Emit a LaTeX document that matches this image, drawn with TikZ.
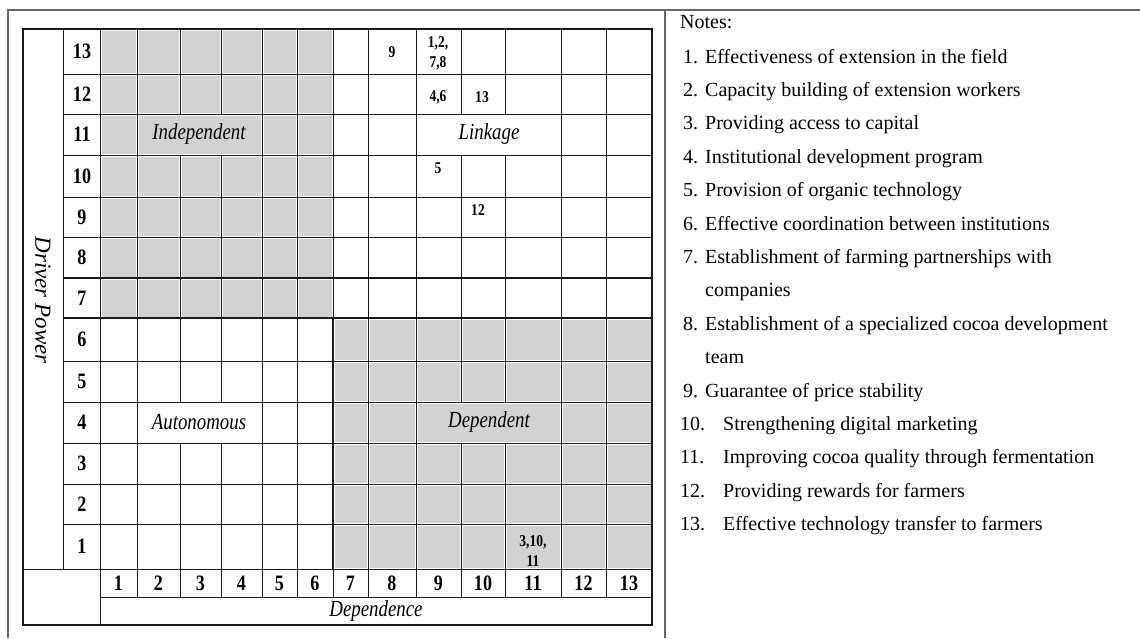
\documentclass[tikz,border=0pt]{standalone}
\usepackage{fontspec}
\setmainfont{Liberation Serif}
\newfontfamily\gridfont[FakeStretch=0.82]{Liberation Serif}
\definecolor{cellgray}{RGB}{210,210,210}
\definecolor{linec}{RGB}{25,25,25}
\def\XS{{100,137,180,221,262,297,333,368,416,461,505,561,606,652}}
\def\YS{{569,524,484,443,402,361,318,278,237,197,155,114,74,29}}
\newcommand\cellfill[3]{%
  \pgfmathsetmacro\cfxa{\XS[#1-1]}%
  \pgfmathsetmacro\cfxb{\XS[#2]}%
  \pgfmathsetmacro\cfya{\YS[#3]}%
  \pgfmathsetmacro\cfyb{\YS[#3-1]}%
  \fill[cellgray] (\cfxa+1.5,\cfya+1.5) rectangle (\cfxb-1.5,\cfyb-1.5);}
\begin{document}
\begin{tikzpicture}[x=1pt,y=-1pt,
  gl/.style={line width=0.9pt, draw=linec},
  thk/.style={line width=1.7pt, draw=linec},
  frame/.style={line width=1.4pt, draw=black!60},
  num/.style={font=\gridfont\bfseries\fontsize{22}{24}\selectfont, inner sep=0pt},
  small/.style={font=\gridfont\bfseries\fontsize{16.5}{20}\selectfont, inner sep=0pt, align=center},
  lab/.style={font=\gridfont\itshape\fontsize{23}{25}\selectfont, inner sep=0pt},
  note/.style={font=\fontsize{20}{22}\selectfont, anchor=base west, inner sep=0pt}
]
\useasboundingbox (0,0) rectangle (1140,638);
% outer frame
\draw[frame] (8,638) -- (8,10) -- (1140,10);
\draw[frame] (665,10) -- (665,638);
% shaded cells
\foreach \r in {7,...,13}{\foreach \c in {1,...,6}{%
  \pgfmathtruncatemacro\skp{(\r==11)&&(\c>1)&&(\c<5)}%
  \ifnum\skp=0 \cellfill{\c}{\c}{\r}\fi}}
\cellfill{2}{4}{11}
\foreach \r in {1,...,6}{\foreach \c in {7,...,13}{%
  \pgfmathtruncatemacro\skp{(\r==4)&&(\c>8)&&(\c<12)}%
  \ifnum\skp=0 \cellfill{\c}{\c}{\r}\fi}}
\cellfill{9}{11}{4}
% horizontal lines
\foreach \i in {1,...,12}{%
  \pgfmathsetmacro\hy{\YS[\i]}%
  \draw[gl] (63,\hy) -- (652,\hy);}
\draw[thk] (63,278) -- (652,278);
\draw[thk] (63,318) -- (652,318);
\draw[gl] (23,569) -- (652,569);
\draw[gl] (100,597) -- (652,597);
% vertical lines
\foreach \i in {1,...,12}{%
  \pgfmathsetmacro\vx{\XS[\i]}%
  \pgfmathtruncatemacro\mrg{(\i==2)||(\i==3)||(\i==9)||(\i==10)}%
  \ifnum\mrg=1
    \draw[gl] (\vx,29) -- (\vx,114);
    \draw[gl] (\vx,155) -- (\vx,402);
    \draw[gl] (\vx,443) -- (\vx,597);
  \else
    \draw[gl] (\vx,29) -- (\vx,597);
  \fi}
\draw[thk] (333,318) -- (333,569);
\draw[gl] (100,29) -- (100,625);
\draw[gl] (63,29) -- (63,569);
\draw[line width=1.2pt, draw=linec] (23,29) rectangle (652,625);
% row numbers
\foreach \r in {1,...,13}{%
  \pgfmathsetmacro\rya{\YS[\r]}%
  \pgfmathsetmacro\ryb{\YS[\r-1]}%
  \node[num] (row\r) at (82,{(\rya+\ryb)/2}) {\r};}
% column numbers
\foreach \c in {1,...,13}{%
  \pgfmathsetmacro\cxa{\XS[\c]}%
  \pgfmathsetmacro\cxb{\XS[\c-1]}%
  \node[num] (col\c) at ({(\cxa+\cxb)/2},583) {\c};}
% axis labels
\node[inner sep=0pt, font=\itshape\fontsize{23}{25}\selectfont, rotate=-90] (driver) at (43,300) {Driver Power};
\node[lab] (dependence) at (376,611) {Dependence};
% quadrant labels
\node[lab] (indep) at (199,134) {Independent};
\node[lab] (linkage) at (489,134) {Linkage};
\node[lab] (auton) at (199,422) {Autonomous};
\node[lab] (depend) at (489,422) {Dependent};
% cell entries
\node[small] (e9) at (392,52) {9};
\node[small] (e1278) at (438,53) {1,2,\\7,8};
\node[small] (e46) at (438,97) {4,6};
\node[small] (e13) at (482,97) {13};
\node[small] (e5) at (438,168) {5};
\node[small] (e12) at (478,210) {12};
\node[small] (e31011) at (533,551) {3,10,\\11};
% notes
\node[note] (notes) at (680,28) {Notes:};
\foreach \k/\t in {1/Effectiveness of extension in the field,
  2/Capacity building of extension workers,
  3/Providing access to capital,
  4/Institutional development program,
  5/Provision of organic technology,
  6/Effective coordination between institutions,
  7/Establishment of farming partnerships with}{%
  \pgfmathsetmacro\ny{63+33.4*(\k-1)}%
  \node[note] (n\k) at (683,\ny) {\k.};
  \node[note] (t\k) at (705,\ny) {\t};}
\node[note] (t7b) at (705,296.8) {companies};
\node[note] (n8) at (683,330.2) {8.};
\node[note] (t8) at (705,330.2) {Establishment of a specialized cocoa development};
\node[note] (t8b) at (705,363.6) {team};
\node[note] (n9) at (683,397) {9.};
\node[note] (t9) at (705,397) {Guarantee of price stability};
\foreach \k/\t in {10/Strengthening digital marketing,
  11/Improving cocoa quality through fermentation,
  12/Providing rewards for farmers,
  13/Effective technology transfer to farmers}{%
  \pgfmathsetmacro\ny{430.4+33.4*(\k-10)}%
  \node[note] (n\k) at (680,\ny) {\k.};
  \node[note] (t\k) at (723,\ny) {\t};}
\end{tikzpicture}
\end{document}
